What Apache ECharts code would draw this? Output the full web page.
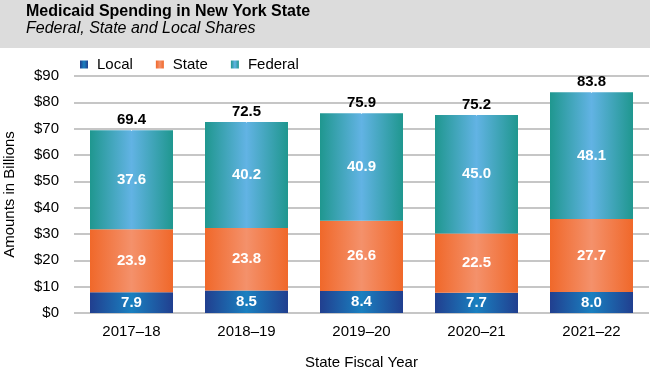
<!DOCTYPE html>
<html>
<head>
<meta charset="utf-8">
<script src="https://cdn.jsdelivr.net/npm/echarts@6/dist/echarts.min.js"></script>
<style>
  html, body { margin: 0; padding: 0; background: #fff; }
  #chart { width: 650px; height: 375px; }
</style>
</head>
<body>
<div id="chart"></div>
<script>
  var years = ['2017–18', '2018–19', '2019–20', '2020–21', '2021–22']
  var localShare = [7.9, 8.5, 8.4, 7.7, 8.0]
  var stateShare = [23.9, 23.8, 26.6, 22.5, 27.7]
  var federalShare = [37.6, 40.2, 40.9, 45.0, 48.1]
  var totals = [69.4, 72.5, 75.9, 75.2, 83.8]

  var FONT = '"Liberation Sans", Arial, sans-serif'

  function grad(edge, mid) {
    return new echarts.graphic.LinearGradient(0, 0, 1, 0, [
      { offset: 0, color: edge },
      { offset: 0.5, color: mid },
      { offset: 1, color: edge },
    ])
  }

  var insideLabel = {
    show: true,
    position: 'inside',
    color: '#fff',
    fontFamily: FONT,
    fontWeight: 'bold',
    fontSize: 15,
    formatter: function (p) { return p.value.toFixed(1) },
  }

  var myChart = echarts.init(document.getElementById('chart'), null, { renderer: 'canvas' })

  var option = {
    animation: false,
    textStyle: { fontFamily: FONT },
    graphic: [
      { type: 'rect', left: 0, top: 0, shape: { width: 650, height: 48 }, style: { fill: '#dcdcdc' }, z: -1 },
      { type: 'text', left: 26, top: 4, style: { text: 'Medicaid Spending in New York State', font: 'bold 16px ' + FONT, fill: '#000' } },
      { type: 'text', left: 26, top: 21, style: { text: 'Federal, State and Local Shares', font: 'italic 16px ' + FONT, fill: '#000' } },
    ],
    legend: {
      left: 75,
      top: 52,
      icon: 'rect',
      itemWidth: 8,
      itemHeight: 8,
      itemGap: 23,
      textStyle: { fontSize: 15, color: '#000', fontFamily: FONT, padding: [0, 0, 0, 4] },
      data: ['Local', 'State', 'Federal'],
    },
    grid: { left: 74, right: 1, top: 76, bottom: 62, outerBoundsMode: 'none', containLabel: false },
    xAxis: {
      type: 'category',
      data: years,
      axisLine: { show: false },
      axisTick: { show: false },
      axisLabel: { color: '#000', fontSize: 15, margin: 11 },
      name: 'State Fiscal Year',
      nameLocation: 'middle',
      nameGap: 42,
      nameTextStyle: { color: '#000', fontSize: 15 },
    },
    yAxis: {
      type: 'value',
      min: 0,
      max: 90,
      interval: 10,
      axisLine: { show: false },
      axisTick: { show: false },
      axisLabel: { color: '#000', fontSize: 15, margin: 15, formatter: '${value}' },
      splitLine: { lineStyle: { color: '#c6c6c6', width: 2 } },
      name: 'Amounts in Billions',
      nameLocation: 'middle',
      nameGap: 57,
      nameTextStyle: { color: '#000', fontSize: 15 },
    },
    series: [
      {
        name: 'Local', type: 'bar', stack: 'total', barWidth: 83,
        data: localShare,
        itemStyle: { color: grad('#213f8f', '#1a80c0') },
        label: insideLabel,
      },
      {
        name: 'State', type: 'bar', stack: 'total',
        data: stateShare,
        itemStyle: { color: grad('#f0682a', '#f4916b') },
        label: insideLabel,
      },
      {
        name: 'Federal', type: 'bar', stack: 'total',
        data: federalShare,
        itemStyle: { color: grad('#1f978f', '#62b3e4') },
        label: insideLabel,
      },
      {
        name: 'Total', type: 'scatter', symbolSize: 1, z: 5,
        data: totals,
        itemStyle: { color: '#fff', opacity: 1 },
        label: {
          show: true, position: 'top', distance: 2,
          color: '#000', opacity: 1, textBorderWidth: 0,
          fontWeight: 'bold', fontSize: 15, fontFamily: FONT,
          formatter: function (p) { return p.value.toFixed(1) },
        },
        silent: true,
      },
    ],
  }
  myChart.setOption(option)
</script>
</body>
</html>
